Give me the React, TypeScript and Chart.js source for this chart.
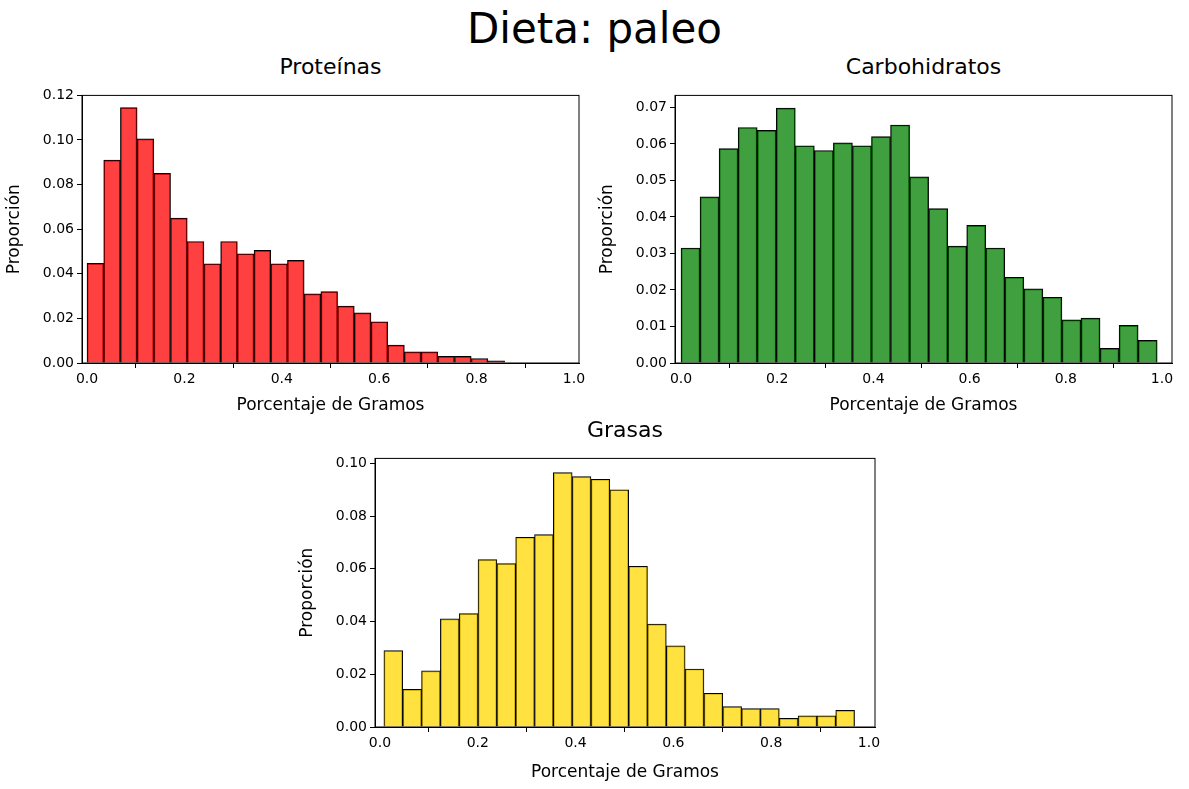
import { Chart, registerables } from "chart.js"
import { useEffect, useRef } from "react"

Chart.register(...registerables)

const protBins = [0.0447, 0.091, 0.1145, 0.1005, 0.085, 0.065, 0.0545, 0.0445, 0.0545, 0.049, 0.0505, 0.0445, 0.046, 0.031, 0.032, 0.0255, 0.0225, 0.0185, 0.008, 0.005, 0.005, 0.003, 0.003, 0.002, 0.001]
const protStart = 0.0
const protWidth = 0.0343

const carbBins = [0.0315, 0.0455, 0.0587, 0.0645, 0.0637, 0.0698, 0.0595, 0.0582, 0.0603, 0.0595, 0.062, 0.0652, 0.051, 0.0423, 0.032, 0.0377, 0.0315, 0.0235, 0.0203, 0.018, 0.0118, 0.0123, 0.004, 0.0103, 0.0062]
const carbStart = 0.0
const carbWidth = 0.0396

const grasBins = [0.029, 0.0143, 0.0213, 0.041, 0.043, 0.0635, 0.062, 0.072, 0.073, 0.0965, 0.095, 0.094, 0.09, 0.061, 0.039, 0.0308, 0.022, 0.0128, 0.0077, 0.007, 0.007, 0.0033, 0.0042, 0.0042, 0.0063]
const grasStart = 0.008
const grasWidth = 0.0385

const font = "'DejaVu Sans', sans-serif"

type HistProps = {
  bins: number[]; start: number; width: number; color: string
  xmin: number; xmax: number; ymax: number; ystep: number; decimals: number
  left: number; top: number; w: number; h: number; xh: number; title: string
}

const Hist = (p: HistProps) => {
  const ref = useRef<HTMLCanvasElement>(null)
  useEffect(() => {
    if (!ref.current) return
    const data = p.bins.map((v, i) => ({ x: p.start + p.width * (i + 0.5), y: v }))
    const chart = new Chart(ref.current, {
      type: "bar",
      data: {
        datasets: [{
          data, backgroundColor: p.color, borderColor: "#000", borderWidth: 1,
          barPercentage: 1, categoryPercentage: 1, grouped: false,
        }],
      },
      options: {
        animation: false, responsive: false, maintainAspectRatio: false,
        layout: { padding: { top: 10, right: 10, left: 0, bottom: 0 } },
        plugins: { legend: { display: false }, tooltip: { enabled: false } },
        scales: {
          x: {
            type: "linear", min: p.xmin, max: p.xmax, offset: false,
            afterFit: (s: any) => { s.height = p.xh },
            afterBuildTicks: (s: any) => { s.ticks = [0, 0.2, 0.4, 0.6, 0.8, 1].map(v => ({ value: v })) },
            ticks: { color: "#000", font: { family: font, size: 14 }, maxRotation: 0, callback: (v: any) => Number(v).toFixed(1) },
            grid: { drawOnChartArea: false, tickLength: 5, color: "#000" },
            border: { color: "#000" },
            title: { display: true, text: "Porcentaje de Gramos", color: "#000", font: { family: font, size: 17 }, padding: { top: 2 } },
          },
          y: {
            min: 0, max: p.ymax,
            afterFit: (s: any) => { s.width = 82 },
            afterBuildTicks: (s: any) => {
              const t = []
              for (let v = 0; v <= p.ymax + 1e-9; v += p.ystep) t.push({ value: Math.round(v * 1000) / 1000 })
              s.ticks = t
            },
            ticks: { color: "#000", font: { family: font, size: 14 }, callback: (v: any) => Number(v).toFixed(p.decimals) },
            grid: { drawOnChartArea: false, tickLength: 5, color: "#000" },
            border: { color: "#000" },
            title: { display: true, text: "Proporción", color: "#000", font: { family: font, size: 17 }, padding: { bottom: 4 } },
          },
        },
      },
      plugins: [{
        id: "frame",
        afterDraw: (c: any) => {
          const { ctx, chartArea: a } = c
          ctx.save(); ctx.strokeStyle = "#000"; ctx.lineWidth = 1
          ctx.strokeRect(a.left, a.top, a.right - a.left, a.bottom - a.top)
          ctx.restore()
        },
      }],
    })
    return () => chart.destroy()
  })
  return (
    <>
      <div style={{ position: "absolute", left: p.left + 82, top: p.top - 30, width: p.w - 92, textAlign: "center", fontFamily: font, fontSize: 22 }}>{p.title}</div>
      <canvas ref={ref} width={p.w} height={p.h} style={{ position: "absolute", left: p.left, top: p.top, width: p.w, height: p.h }} />
    </>
  )
}

export default function App() {
  return (
    <div style={{ position: "fixed", left: 0, top: 0, width: 1189, height: 789, background: "#fff" }}>
      <div style={{ position: "absolute", left: 0, top: 4, width: 1189, textAlign: "center", fontFamily: font, fontSize: 42 }}>Dieta: paleo</div>
      <Hist bins={protBins} start={protStart} width={protWidth} color="rgba(255,0,0,0.75)" xmin={-0.0103} xmax={1.0103} ymax={0.12} ystep={0.02} decimals={2}
        left={0} top={84} w={589} h={336} xh={57} title="Proteínas" />
      <Hist bins={carbBins} start={carbStart} width={carbWidth} color="rgba(0,128,0,0.75)" xmin={-0.0125} xmax={1.0208} ymax={0.0733} ystep={0.01} decimals={2}
        left={593} top={84} w={589} h={336} xh={57} title="Carbohidratos" />
      <Hist bins={grasBins} start={grasStart} width={grasWidth} color="rgba(255,215,0,0.75)" xmin={-0.0102} xmax={1.0123} ymax={0.1019} ystep={0.02} decimals={2}
        left={293} top={447} w={592} h={340} xh={60} title="Grasas" />
    </div>
  )
}
